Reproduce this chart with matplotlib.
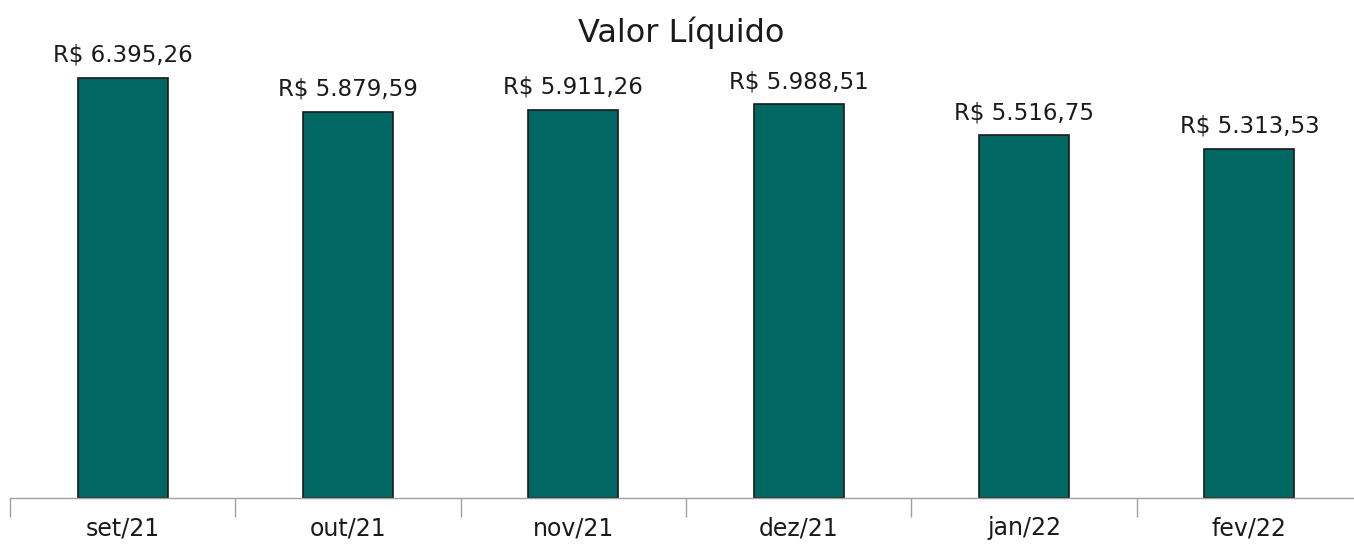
import numpy as np
import matplotlib.pyplot as plt

plt.rcParams['font.family'] = ['DejaVu Sans']

meses = ['set/21', 'out/21', 'nov/21', 'dez/21', 'jan/22', 'fev/22']
valores = [6395.26, 5879.59, 5911.26, 5988.51, 5516.75, 5313.53]
rotulos = ['R$ 6.395,26', 'R$ 5.879,59', 'R$ 5.911,26',
           'R$ 5.988,51', 'R$ 5.516,75', 'R$ 5.313,53']

fig = plt.figure(figsize=(13.54, 5.46), dpi=100)
ax = fig.add_axes([10/1354, 48/546, 1352/1354, 460/546])

x = np.arange(len(meses))
ax.bar(x, valores, width=0.4, color='#006762', edgecolor='#1a1a1a', linewidth=1.2)

for xi, v, r in zip(x, valores, rotulos):
    ax.annotate(r, (xi, v), xytext=(0, 8), textcoords='offset points',
                ha='center', va='bottom', fontsize=16.5, color='#1a1a1a')

ax.set_xlim(-0.5, len(meses) - 0.5)
ax.set_ylim(0, 7000)

# tick marks between categories, labels centred under bars
ax.set_xticks(np.arange(-0.5, len(meses), 1.0))
ax.set_xticklabels([])
ax.set_xticks(x, minor=True)
ax.set_xticklabels(meses, minor=True, fontsize=17, color='#1a1a1a')
ax.tick_params(axis='x', which='major', length=14, color='#a0a0a0', width=1)
ax.tick_params(axis='x', which='minor', length=0, pad=13)

ax.set_yticks([])
for s in ['top', 'right', 'left']:
    ax.spines[s].set_visible(False)
ax.spines['bottom'].set_color('#a0a0a0')
ax.spines['bottom'].set_linewidth(1)

fig.text(0.503, 1 - 33/546, 'Valor Líquido', ha='center', va='center',
         fontsize=23, color='#1a1a1a')

fig.savefig('out.png', dpi=100)
